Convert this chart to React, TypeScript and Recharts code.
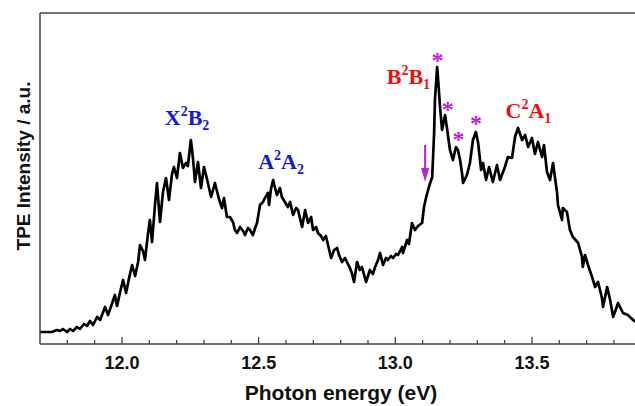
import { LineChart, Line, XAxis, YAxis, ReferenceLine, ReferenceDot } from 'recharts';

// photon energy (eV)
const energy = [
  11.700, 11.726, 11.744, 11.762, 11.773, 11.784, 11.799, 11.810, 11.821, 11.835,
  11.846, 11.861, 11.872, 11.883, 11.894, 11.909, 11.920, 11.938, 11.949, 11.963,
  11.974, 11.982, 11.993, 12.004, 12.015, 12.026, 12.037, 12.048, 12.059, 12.066,
  12.077, 12.084, 12.095, 12.102, 12.110, 12.121, 12.128, 12.139, 12.150, 12.161,
  12.172, 12.183, 12.190, 12.201, 12.212, 12.223, 12.234, 12.241, 12.252, 12.260,
  12.267, 12.278, 12.289, 12.300, 12.311, 12.326, 12.340, 12.355, 12.366, 12.373,
  12.384, 12.395, 12.406, 12.413, 12.421, 12.432, 12.443, 12.450, 12.461, 12.468,
  12.479, 12.487, 12.494, 12.505, 12.516, 12.523, 12.534, 12.538, 12.545, 12.553,
  12.560, 12.567, 12.578, 12.585, 12.596, 12.607, 12.615, 12.626, 12.637, 12.644,
  12.659, 12.670, 12.681, 12.692, 12.699, 12.710, 12.717, 12.728, 12.736, 12.746,
  12.754, 12.765, 12.776, 12.787, 12.794, 12.805, 12.816, 12.823, 12.834, 12.841,
  12.849, 12.860, 12.870, 12.878, 12.885, 12.893, 12.900, 12.907, 12.918, 12.926,
  12.937, 12.944, 12.955, 12.966, 12.973, 12.984, 12.992, 13.003, 13.010, 13.025,
  13.028, 13.043, 13.050, 13.061, 13.072, 13.083, 13.098, 13.105, 13.113, 13.124,
  13.135, 13.142, 13.145, 13.153, 13.156, 13.164, 13.171, 13.182, 13.190, 13.200,
  13.211, 13.222, 13.229, 13.237, 13.244, 13.248, 13.262, 13.273, 13.284, 13.295,
  13.303, 13.314, 13.321, 13.332, 13.343, 13.357, 13.372, 13.383, 13.401, 13.412,
  13.427, 13.438, 13.449, 13.464, 13.475, 13.486, 13.500, 13.511, 13.522, 13.537,
  13.544, 13.555, 13.566, 13.577, 13.592, 13.595, 13.610, 13.613, 13.628, 13.639,
  13.650, 13.669, 13.683, 13.686, 13.694, 13.705, 13.720, 13.731, 13.742, 13.756,
  13.760, 13.775, 13.786, 13.797, 13.815, 13.833, 13.851, 13.870, 13.881,
];

// TPE intensity (a.u.)
const intensity = [
  12, 12, 12, 14, 13, 15, 12, 15, 13, 17,
  15, 20, 18, 23, 19, 27, 24, 37, 29, 40,
  49, 38, 52, 64, 51, 66, 79, 68, 82, 99,
  93, 84, 110, 124, 102, 140, 161, 122, 152, 166,
  144, 170, 177, 166, 191, 176, 181, 178, 204, 185,
  162, 182, 156, 177, 165, 147, 161, 145, 136, 146,
  127, 127, 122, 114, 111, 117, 113, 109, 116, 114,
  109, 116, 121, 139, 142, 146, 151, 139, 155, 164,
  156, 149, 156, 147, 142, 137, 142, 129, 136, 134,
  117, 134, 121, 127, 114, 117, 111, 108, 104, 108,
  99, 86, 94, 96, 89, 82, 86, 82, 76, 71,
  62, 82, 74, 77, 70, 62, 68, 74, 70, 77,
  84, 91, 79, 86, 84, 88, 86, 90, 89, 97,
  91, 104, 100, 121, 114, 118, 121, 137, 147, 158,
  167, 211, 244, 277, 267, 236, 214, 229, 214, 194,
  184, 197, 194, 184, 171, 161, 169, 181, 204, 212,
  201, 174, 181, 164, 177, 162, 179, 164, 177, 187,
  186, 207, 216, 204, 209, 197, 206, 190, 202, 187,
  199, 172, 164, 181, 151, 139, 124, 136, 132, 114,
  107, 101, 87, 77, 89, 79, 67, 57, 62, 46,
  37, 57, 44, 27, 41, 31, 29, 24, 22,
];

const xTicks = [
  11.8, 11.9, 12.0, 12.1, 12.2, 12.3, 12.4, 12.5, 12.6, 12.7,
  12.8, 12.9, 13.0, 13.1, 13.2, 13.3, 13.4, 13.5, 13.6, 13.7, 13.8,
];

// band assignments: [energy, height, label, superscript, subscript, colour]
const bandLabels: [number, number, string, string, string, string][] = [
  [12.238, 219, 'X', 'B', '2', '#1818d0'],
  [12.582, 175, 'A', 'A', '2', '#1818d0'],
  [13.048, 260, 'B', 'B', '1', '#f00d0d'],
  [13.487, 226, 'C', 'A', '1', '#f00d0d'],
];

// vibrational features marked with a star
const starE = [13.154, 13.192, 13.231, 13.295];
const starI = [287, 238, 208, 224];

const arrowE = 13.109;
const arrowI = 162;

const data = energy.map((e, i) => ({ e, tpe: intensity[i] }));

const FRAME = '#444';
const PURPLE = '#bd1fd9';

const EnergyTick = ({ x, y, payload }: any) => {
  const v = payload.value;
  const major = Math.abs(v * 2 - Math.round(v * 2)) < 1e-6;
  return (
    <g>
      <line x1={x} x2={x} y1={y} y2={y - (major ? 7 : 4)} stroke={FRAME} strokeWidth={1.3} />
      {major && (
        <text x={x} y={y + 25} textAnchor="middle" fontSize={18} fontWeight="bold"
          fontFamily="'Liberation Sans', Arial, sans-serif" fill="#111">
          {v.toFixed(1)}
        </text>
      )}
    </g>
  );
};

export default function App() {
  return (
    <div style={{ position: 'fixed', left: 0, top: 0, width: 635, height: 406, overflow: 'hidden', background: '#fff' }}>
      <LineChart width={640} height={406} data={data} margin={{ top: 13, right: 5, left: 0, bottom: 0 }}>
        <XAxis
          dataKey="e"
          type="number"
          domain={[11.7, 13.877]}
          allowDataOverflow
          ticks={xTicks}
          interval={0}
          tickSize={0}
          tickMargin={0}
          tickLine={false}
          tick={<EnergyTick />}
          height={62}
          axisLine={{ stroke: FRAME, strokeWidth: 1.5 }}
          label={{
            content: () => (
              <text x={341} y={400} textAnchor="middle" fontSize={21} fontWeight="bold"
                fontFamily="'Liberation Sans', Arial, sans-serif" fill="#111">
                Photon energy (eV)
              </text>
            ),
          }}
        />
        <YAxis
          type="number"
          domain={[0, 331]}
          allowDataOverflow
          tick={false}
          tickLine={false}
          width={40}
          axisLine={{ stroke: FRAME, strokeWidth: 1.5 }}
          label={{
            content: () => (
              <text x={23} y={166} transform="rotate(-90 23 166)" textAnchor="middle"
                dominantBaseline="central" fontSize={19} fontWeight="bold"
                fontFamily="'Liberation Sans', Arial, sans-serif" fill="#111">
                TPE Intensity / a.u.
              </text>
            ),
          }}
        />
        <ReferenceLine y={331} stroke={FRAME} strokeWidth={1.5} />
        <Line
          type="linear"
          dataKey="tpe"
          stroke="#000"
          strokeWidth={2.7}
          strokeLinejoin="round"
          dot={false}
          isAnimationActive={false}
        />
        {bandLabels.map(([e, h, a, b, sub, color]) => (
          <ReferenceDot
            key={a + b + sub}
            x={e}
            y={h}
            r={0}
            shape={(p: any) => (
              <text x={p.cx} y={p.cy} textAnchor="middle" fontSize={22} fontWeight="bold"
                fontFamily="'Liberation Serif', 'Times New Roman', serif" fill={color}>
                {a}
                <tspan fontSize={14} dy={-9}>2</tspan>
                <tspan dy={9}>{b}</tspan>
                <tspan fontSize={14} dy={5}>{sub}</tspan>
              </text>
            )}
          />
        ))}
        {starE.map((e, i) => (
          <ReferenceDot
            key={'s' + i}
            x={e}
            y={starI[i]}
            r={0}
            shape={(p: any) => (
              <text x={p.cx} y={p.cy + 11} textAnchor="middle" fontSize={24} fontWeight="bold"
                fontFamily="'Liberation Serif', 'Times New Roman', serif" fill={PURPLE}>
                *
              </text>
            )}
          />
        ))}
        <ReferenceDot
          x={arrowE}
          y={arrowI}
          r={0}
          shape={(p: any) => (
            <g>
              <line x1={p.cx} x2={p.cx} y1={p.cy - 37} y2={p.cy - 12} stroke={PURPLE} strokeWidth={2} />
              <polygon
                points={`${p.cx - 4},${p.cy - 14} ${p.cx + 4},${p.cy - 14} ${p.cx},${p.cy}`}
                fill={PURPLE}
              />
            </g>
          )}
        />
      </LineChart>
    </div>
  );
}
